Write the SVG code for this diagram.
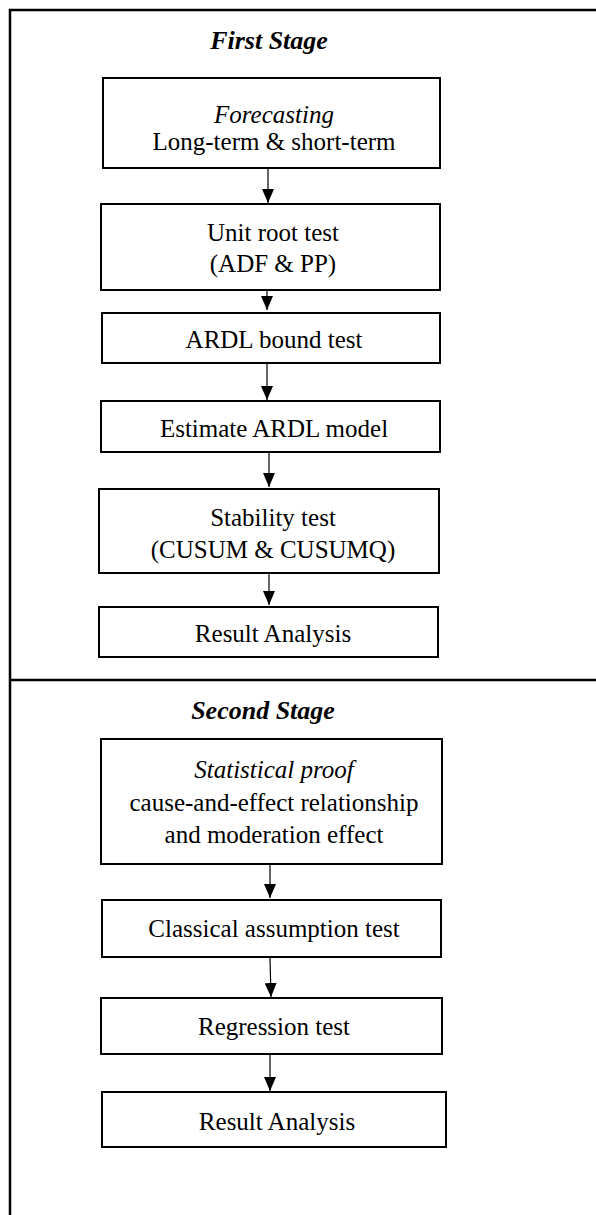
<svg xmlns="http://www.w3.org/2000/svg" width="596" height="1215" viewBox="0 0 596 1215">
<style>
.frame{stroke:#000;stroke-width:2.5;fill:none}
.box{fill:#fff;stroke:#000;stroke-width:2}
.t{font-family:"Liberation Serif","Times New Roman",serif;font-size:25px;fill:#000;text-anchor:middle}
.i{font-style:italic}
.h{font-family:"Liberation Serif","Times New Roman",serif;font-size:26px;font-weight:bold;font-style:italic;fill:#000;text-anchor:middle}
.c{stroke:#000;stroke-width:1.2;fill:none;marker-end:url(#ah)}
</style>
<defs>
<marker id="ah" markerUnits="userSpaceOnUse" viewBox="0 -6 14 12" refX="14" refY="0" markerWidth="14" markerHeight="12" orient="auto">
<path d="M0,-6 L14,0 L0,6 z" fill="#000"/>
</marker>
</defs>
<g id="frame">
<path class="frame" d="M10,1215 V10 H596"/>
<path class="frame" d="M10,680 H596"/>
</g>
<g id="stage1-title"><text class="h" x="269" y="49">First Stage</text></g>
<g id="n1"><rect class="box" x="103" y="78" width="337" height="90"/><text class="t i" x="274" y="123">Forecasting</text><text class="t" x="274" y="150">Long-term &amp; short-term</text></g>
<g id="n2"><rect class="box" x="101" y="204" width="339" height="86"/><text class="t" x="273" y="241">Unit root test</text><text class="t" x="273" y="272">(ADF &amp; PP)</text></g>
<g id="n3"><rect class="box" x="102" y="313" width="338" height="50"/><text class="t" x="274" y="348">ARDL bound test</text></g>
<g id="n4"><rect class="box" x="101" y="401" width="339" height="51"/><text class="t" x="274" y="437">Estimate ARDL model</text></g>
<g id="n5"><rect class="box" x="99" y="489" width="340" height="84"/><text class="t" x="273" y="526">Stability test</text><text class="t" x="273" y="558">(CUSUM &amp; CUSUMQ)</text></g>
<g id="n6"><rect class="box" x="99" y="607" width="339" height="50"/><text class="t" x="273" y="642">Result Analysis</text></g>
<g id="stage2-title"><text class="h" x="263" y="719">Second Stage</text></g>
<g id="n7"><rect class="box" x="101" y="739" width="341" height="125"/><text class="t i" x="274" y="778">Statistical proof</text><text class="t" x="274" y="811">cause-and-effect relationship</text><text class="t" x="274" y="843">and moderation effect</text></g>
<g id="n8"><rect class="box" x="102" y="900" width="339" height="57"/><text class="t" x="274" y="937">Classical assumption test</text></g>
<g id="n9"><rect class="box" x="101" y="998" width="341" height="56"/><text class="t" x="274" y="1035">Regression test</text></g>
<g id="n10"><rect class="box" x="102" y="1092" width="344" height="55"/><text class="t" x="277" y="1130">Result Analysis</text></g>
<g id="connectors">
<line class="c" x1="268" y1="169" x2="268" y2="203"/>
<line class="c" x1="267" y1="291" x2="267" y2="310"/>
<line class="c" x1="267" y1="364" x2="267" y2="400"/>
<line class="c" x1="269" y1="453" x2="269" y2="487"/>
<line class="c" x1="269" y1="574" x2="269" y2="605"/>
<line class="c" x1="270" y1="865" x2="270" y2="898"/>
<line class="c" x1="270" y1="958" x2="271" y2="997"/>
<line class="c" x1="270" y1="1055" x2="270" y2="1091"/>
</g>
</svg>
